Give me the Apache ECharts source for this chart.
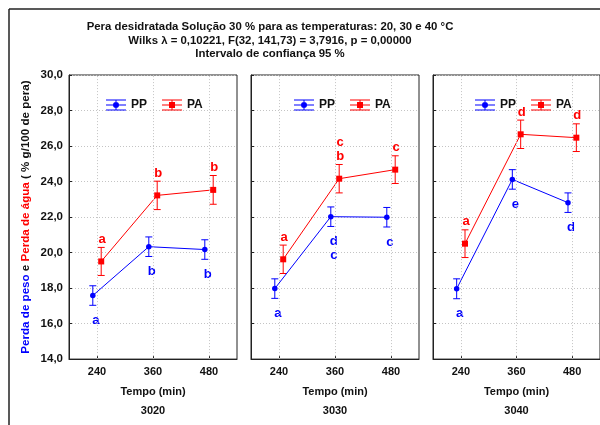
<!DOCTYPE html>
<html><head><meta charset="utf-8">
<script src="https://cdn.jsdelivr.net/npm/echarts@6/dist/echarts.min.js"></script>
<style>html,body{margin:0;padding:0;background:#fff}#c{width:600px;height:425px}</style>
</head><body><div id="c"></div>
<script>
// ---- data ----
const titleLines = [
  'Pera desidratada Solução 30 % para as temperaturas: 20, 30 e 40 °C',
  'Wilks λ = 0,10221, F(32, 141,73) = 3,7916, p = 0,00000',
  'Intervalo de confiança 95 %'
];
const times = [240, 360, 480];
const panels = ['3020', '3030', '3040'];
const seriesNames = ['PP', 'PA'];
const ppMeans = [[17.58, 20.33, 20.17], [17.97, 22.02, 21.99], [17.96, 24.12, 22.81]];
const ppErr   = [[0.55, 0.55, 0.55], [0.55, 0.55, 0.55], [0.56, 0.55, 0.55]];
const paMeans = [[19.50, 23.22, 23.53], [19.62, 24.16, 24.67], [20.50, 26.66, 26.47]];
const paErr   = [[0.79, 0.80, 0.81], [0.80, 0.80, 0.78], [0.78, 0.80, 0.78]];
const ppLetters = [['a', 'b', 'b'], ['a', 'd\nc', 'c'], ['a', 'e', 'd']];
const paLetters = [['a', 'b', 'b'], ['a', 'c\nb', 'c'], ['a', 'd', 'd']];
const yMin = 14, yMax = 30, yStep = 2;
const xTitle = 'Tempo (min)';

// ---- styles ----
const FONT = 'Liberation Sans, Arial, sans-serif';
const BLUE = '#0000ff', RED = '#ff0000';
const OFF = 9; // horizontal dodge (minutes) between PP and PA
const gridLefts = [69, 251, 433];
const legendLefts = [101, 289, 470];
const PANEL_W = 168, PANEL_TOP = 75, PANEL_H = 289;
const GRID_LINE = { color: '#c4c4c4', type: [1, 2], width: 1 };

const iconPP = 'path://M0,0h20v1h-20zM0,10h20v1h-20zM0,5h20v1h-20zM9.5,0h1v11h-1zM13,5.5A3,3 0 1,1 7,5.5A3,3 0 1,1 13,5.5z';
const iconPA = 'path://M0,0h20v1h-20zM0,10h20v1h-20zM0,5h20v1h-20zM9.5,0h1v11h-1zM7,2.5h6v6h-6z';

function errRender(color) {
  return function (params, api) {
    const x = api.value(0);
    const lo = api.coord([x, api.value(1)]);
    const hi = api.coord([x, api.value(2)]);
    const w = 3.5;
    const st = { stroke: color, lineWidth: 1 };
    return {
      type: 'group', children: [
        { type: 'line', shape: { x1: lo[0], y1: lo[1], x2: hi[0], y2: hi[1] }, style: st },
        { type: 'line', shape: { x1: lo[0] - w, y1: lo[1], x2: lo[0] + w, y2: lo[1] }, style: st },
        { type: 'line', shape: { x1: hi[0] - w, y1: hi[1], x2: hi[0] + w, y2: hi[1] }, style: st }
      ]
    };
  };
}

const grids = [], xAxes = [], yAxes = [], series = [], legends = [];
panels.forEach((pn, p) => {
  grids.push({ left: gridLefts[p], top: PANEL_TOP, width: PANEL_W, height: PANEL_H,
    show: true, borderColor: '#222', borderWidth: 1, backgroundColor: 'transparent' });
  xAxes.push({
    type: 'value', gridIndex: p, min: 180, max: 540,
    axisLine: { show: true, onZero: false, lineStyle: { color: '#222', width: 1 } },
    axisTick: { show: true, inside: true, length: 3, customValues: times, lineStyle: { color: '#222' } },
    axisLabel: { customValues: times, color: '#111', fontFamily: FONT, fontSize: 11, fontWeight: 'bold', margin: 7 },
    splitLine: { show: false },
    name: xTitle + '\n' + pn, nameLocation: 'middle', nameGap: 20,
    nameTextStyle: { color: '#111', fontFamily: FONT, fontSize: 11, fontWeight: 'bold', lineHeight: 19 }
  });
  const y = {
    type: 'value', gridIndex: p, min: yMin, max: yMax, interval: yStep,
    axisLine: { show: true, lineStyle: { color: '#222', width: 1 } },
    axisTick: { show: true, inside: true, length: 3, lineStyle: { color: '#222' } },
    axisLabel: { show: p === 0, color: '#111', fontFamily: FONT, fontSize: 11.5, fontWeight: 'bold', margin: 6,
      formatter: v => v.toFixed(1).replace('.', ',') },
    splitLine: { show: true, lineStyle: GRID_LINE }
  };
  if (p === 0) {
    y.name = '{b|Perda de peso} e {r|Perda de água} ( % g/100 de pera)';
    y.nameLocation = 'middle';
    y.nameGap = 37;
    y.nameTextStyle = { color: '#111', fontFamily: FONT, fontSize: 11.6, fontWeight: 'bold',
      rich: { b: { color: BLUE, fontFamily: FONT, fontSize: 11.6, fontWeight: 'bold' },
              r: { color: RED, fontFamily: FONT, fontSize: 11.6, fontWeight: 'bold' } } };
  }
  yAxes.push(y);

  const ppData = times.map((t, i) => [t - OFF, ppMeans[p][i]]);
  const paData = times.map((t, i) => [t + OFF, paMeans[p][i]]);
  series.push({
    type: 'custom', name: 'PP', xAxisIndex: p, yAxisIndex: p, z: 2,
    data: times.map((t, i) => [t - OFF, ppMeans[p][i] - ppErr[p][i], ppMeans[p][i] + ppErr[p][i]]),
    encode: { x: 0, y: [1, 2] }, renderItem: errRender(BLUE), silent: true
  });
  series.push({
    type: 'custom', name: 'PA', xAxisIndex: p, yAxisIndex: p, z: 2,
    data: times.map((t, i) => [t + OFF, paMeans[p][i] - paErr[p][i], paMeans[p][i] + paErr[p][i]]),
    encode: { x: 0, y: [1, 2] }, renderItem: errRender(RED), silent: true
  });
  series.push({
    type: 'line', name: 'PP', xAxisIndex: p, yAxisIndex: p, z: 3, data: ppData,
    symbol: 'circle', symbolSize: 5.5, showAllSymbol: true, animation: false,
    itemStyle: { color: BLUE }, lineStyle: { color: BLUE, width: 1 },
    label: { show: true, position: 'inside', offset: [3, 18], align: 'center', verticalAlign: 'top',
      formatter: prm => ppLetters[p][prm.dataIndex], color: BLUE, fontFamily: FONT, fontSize: 13,
      fontWeight: 'bold', lineHeight: 14 },
    markLine: { silent: true, symbol: 'none', animation: false, label: { show: false },
      lineStyle: GRID_LINE, emphasis: { disabled: true },
      data: times.map(t => ({ xAxis: t })) }
  });
  series.push({
    type: 'line', name: 'PA', xAxisIndex: p, yAxisIndex: p, z: 3, data: paData,
    symbol: 'rect', symbolSize: 6, showAllSymbol: true, animation: false,
    itemStyle: { color: RED }, lineStyle: { color: RED, width: 1 },
    label: { show: true, position: 'inside', offset: [1, -15], align: 'center', verticalAlign: 'bottom',
      formatter: prm => paLetters[p][prm.dataIndex], color: RED, fontFamily: FONT, fontSize: 13,
      fontWeight: 'bold', lineHeight: 14 }
  });
  legends.push({
    left: legendLefts[p], top: 94, itemWidth: 20, itemHeight: 11, itemGap: 15, selectedMode: false,
    data: [{ name: 'PP', icon: iconPP, itemStyle: { color: BLUE } }, { name: 'PA', icon: iconPA, itemStyle: { color: RED } }],
    textStyle: { color: '#111', fontFamily: FONT, fontSize: 12, fontWeight: 'bold' }
  });
});

const chart = echarts.init(document.getElementById('c'), null, { renderer: 'canvas' });
chart.setOption({
  animation: false,
  backgroundColor: '#fff',
  grid: grids, xAxis: xAxes, yAxis: yAxes, series: series, legend: legends,
  graphic: [
    { type: 'line', shape: { x1: 9, y1: 9, x2: 600, y2: 9 }, style: { stroke: '#222', lineWidth: 1.5 } },
    { type: 'line', shape: { x1: 9, y1: 9, x2: 9, y2: 425 }, style: { stroke: '#222', lineWidth: 1.5 } },
    { type: 'text', x: 270, y: 40.8, style: { text: titleLines.join('\n'), align: 'center', verticalAlign: 'middle',
      font: 'bold 11.4px ' + FONT, lineHeight: 13.5, fill: '#111' } }
  ]
});
</script></body></html>
